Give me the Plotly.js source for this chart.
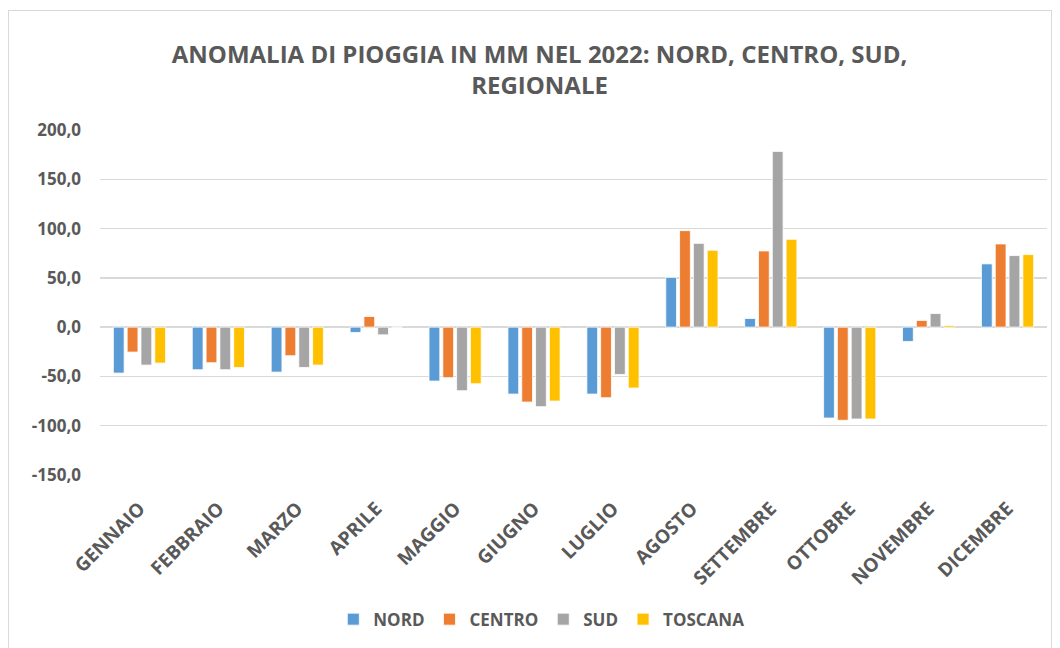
<!DOCTYPE html>
<html>
<head>
<meta charset="utf-8">
<script src="https://cdn.plot.ly/plotly-3.0.1.min.js"></script>
<style>
html,body{margin:0;padding:0;background:#fff;}
#chart{width:1060px;height:648px;}
#frame{position:absolute;left:8px;top:10px;width:1042px;height:640px;border:1px solid #d9d9d9;pointer-events:none;}
</style>
</head>
<body>
<div id="chart"></div>
<div id="frame"></div>
<script>
const months = ["GENNAIO","FEBBRAIO","MARZO","APRILE","MAGGIO","GIUGNO","LUGLIO","AGOSTO","SETTEMBRE","OTTOBRE","NOVEMBRE","DICEMBRE"];
const nord    = [-46.6, -43.2, -45.6, -5.4, -54.7, -67.9, -67.9, 50.5,   8.8, -92.2, -14.5, 64.2];
const centro  = [-25.3, -36.1, -29.0, 10.8, -51.3, -76.0, -71.6, 97.9,  77.3, -94.5,   6.8, 84.4];
const sud     = [-38.5, -43.2, -40.9, -7.8, -64.5, -80.7, -48.0, 85.0, 178.3, -93.2,  13.8, 72.6];
const toscana = [-36.5, -40.9, -38.5,  0.0, -57.4, -75.0, -61.8, 78.0,  89.1, -93.2,   1.7, 73.6];
const yTickVals = [-150, -100, -50, 0, 50, 100, 150, 200];
const yTickText = ["-150,0","-100,0","-50,0","0,0","50,0","100,0","150,0","200,0"];

const FONT = "'Open Sans', Lato, 'Liberation Sans', sans-serif";
const GREY = "#595959";

function tr(name, y, color) {
  return {type:"bar", name:name, x:months, y:y,
    marker:{color:color, line:{color:"#ffffff", width:0.8}},
    hoverinfo:"x+y"};
}
const data = [
  tr("NORD", nord, "#5B9BD5"),
  tr("CENTRO", centro, "#ED7D31"),
  tr("SUD", sud, "#A5A5A5"),
  tr("TOSCANA", toscana, "#FFC000")
];
const layout = {
  width:1060, height:648,
  paper_bgcolor:"#ffffff", plot_bgcolor:"#ffffff",
  margin:{l:100, r:13, t:130, b:172},
  barmode:"group", bargap:0.3, bargroupgap:0.22,
  title:{text:"<b>ANOMALIA DI PIOGGIA IN MM NEL 2022: NORD, CENTRO, SUD,<br>REGIONALE</b>",
    font:{family:FONT, size:24, color:GREY}, x:0.509, xanchor:"center", y:0.903, yanchor:"top"},
  font:{family:FONT, color:GREY},
  xaxis:{type:"category", tickangle:-45, tickfont:{family:FONT, size:19, color:GREY, weight:"bold"},
    showgrid:false, showline:false, ticks:"outside", ticklen:14, tickcolor:"rgba(0,0,0,0)", automargin:false},
  yaxis:{range:[-150,200], autorange:false, tickvals:yTickVals, ticktext:yTickText,
    tickfont:{family:FONT, size:17, color:GREY, weight:"bold"},
    showgrid:true, gridcolor:"#D9D9D9", gridwidth:1.5, zeroline:true, zerolinecolor:"#D9D9D9", zerolinewidth:1.5,
    showline:false, ticks:"", ticklabelstandoff:18, automargin:false},
  legend:{orientation:"h", x:0.466, xanchor:"center", y:-0.415, yanchor:"middle",
    font:{family:FONT, size:17, color:GREY, weight:"bold"}, itemwidth:30, traceorder:"normal"},
  showlegend:true
};
Plotly.newPlot("chart", data, layout, {displayModeBar:false, staticPlot:true});
</script>
</body>
</html>
